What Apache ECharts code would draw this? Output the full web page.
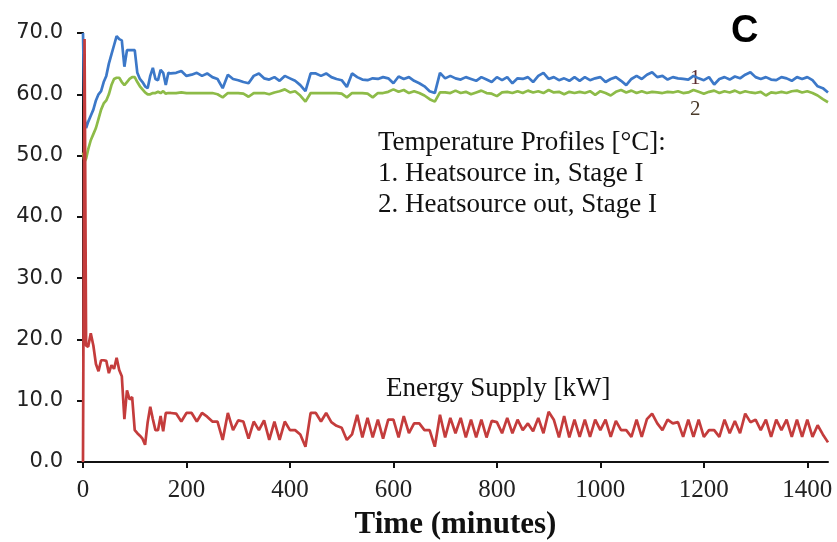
<!DOCTYPE html>
<html>
<head>
<meta charset="utf-8">
<script src="https://cdn.jsdelivr.net/npm/echarts@6/dist/echarts.min.js"></script>
<style>html,body{margin:0;padding:0;background:#fff}#c{width:837px;height:542px}</style>
</head>
<body>
<div id="c"></div>
<script>
const time = [0,3,6,10,15,20,25,30,35,40,45,50,55,60,65,70,75,80,85,90,95,100,105,110,115,120,125,130,135,140,145,150,155,160,165,
170,180,190,200,210,220,230,240,250,260,270,280,290,300,310,320,330,340,350,360,370,380,390,400,410,420,430,440,450,460,470,
480,490,500,510,520,530,540,550,560,570,580,590,600,610,620,630,640,650,660,670,680,690,700,710,720,730,740,750,760,770,780,790,800,810,820,830,840,850,860,870,880,890,900,910,920,930,940,950,
960,970,980,990,1000,1010,1020,1030,1040,1050,1060,1070,1080,1090,1100,1110,1120,1130,1140,1150,1160,1170,1180,1190,1200,1210,1220,1230,1240,1250,1260,1270,1280,1290,1300,1310,1320,1330,1340,1350,1360,1370,1380,1390,1400,1410,1420,1430,1440];

const heatsourceIn = [70,56,54.5,55.5,56.5,57.5,59,60,60.5,62,63,65,66.5,68,69.5,69,68.8,64.5,67.2,67.2,67.2,67.2,63.5,62.5,62,61.3,61,63,64.3,62.5,62.3,64,63.5,61.5,63.5,
63.4,63.5,63.8,63,63.2,63.5,63,63.4,62.8,62.5, 61,63.2,62.5,62.3,62,61.8,63,63.4,62.6,62.4, 62.8,62.2,63,62.6,62.2,61.5,60.5,63.4,63.4,63, 63.4,
62.8,62.5,62.3,61.2,63.4,62.8,62.4,62.3,62.6,62.5, 62.8,62.6,61.8,62.9,62.5,62.8,62.2,61.8,61.3,60.5, 60.2,63.5,62.6,63,62.6,62.4,62.8,62.5,62.2,62.8, 62.4,62,62.8,62.3,62.8,61.8,62.6,62.5,62.8,62, 63,63.5,62.5,62.8,62.3,62.6,62.2,62.8,
62.2,62.8,62.3,62.6,62.8,62,62.5,62.8,62.2,61.5, 62.5,63,62.5,63.2,63.6,62.8,63,62.4,62.8,62.6, 62.5,62.4,63,62.6,62.3,62.8,61.6,62.5,62.8,62.4, 62.9,62.6,63.2,63.6,62.8,62.5,62.8,62.4,62.3,62.8, 62.6,62.2,62.8,62.5,62.8,62.3,61.3,61,60.3];

const heatsourceOut = [50.5,49,49.5,51,52.5,53.5,54.5,56,57.5,58.5,59,60,61.5,62.5,62.7,62.7,62,61.5,62,62.5,62.8,62.8,62,61.3,60.8,60.3,60,60,60.2,60.2,60.4,60.2,60.5,60.1,60.2,
60.2,60.2,60.3,60.2,60.2,60.2,60.2,60.2,60.2,60, 59.5,60.2,60.2,60.2,60.1,59.6,60.2,60.2,60.2,60, 60.3,60.5,60.8,60.3,60.5,59.8,58.8,60.2,60.2,60.2, 60.2,
60.2,60.2,60.1,59.5,60.2,60.2,60.2,60.1,59.5,60.2, 60.2,60.4,60.8,60.4,60.7,60.2,60.5,60.2,59.8,59.2, 58.8,60.3,60.3,60.2,60.6,60.2,60.4,60,60.3,60.6, 60.2,60.1,59.7,60.3,60.4,60.2,60.5,60.2,60.6,60.3, 60.5,60.2,60.7,60.3,60.4,60,60.4,60.2,
60.4,60.2,60.5,59.9,60.5,60.2,59.8,60.4,60.7,60.3, 60.6,60.2,60.5,60.2,60.4,60.3,60.2,60.4,60.3,60.5, 60.2,60.3,60.7,60.4,60.1,60.4,60.6,60.2,60.5,60.3, 60.6,60.2,60.5,60.3,60.2,60.4,59.8,60.3,60.2,60.4, 60.2,60.5,60.6,60.3,60.5,60.2,59.8,59.2,58.7];

const energySupply = [0,69,19,18.8,21,19,16,14.8,16.6,16.6,16.5,14.5,15.8,15.2,17,15,14,7,11.7,10.2,10.6,5.2,4.7,4.3,3.8,2.8,6.5,9,7,5.2,5.2,7.5,5,8,8,
8,7.9,6.6,8,8,6.6,8,7.4,6.6,6.6, 3.6,8,5.2,6.8,6.6,3.8,6.6,5.2,6.8,3.6, 6.6,3.6,6.6,5.2,5.2,4.5,2.5,8,8,6.6, 8,
6.5,5.9,5.6,3.6,4.5,7.7,4,7.2,4,6.9, 3.8,6.9,6.9,4,7.5,4.7,6.3,6.3,5.2,5.2, 2.5,7.7,4,7.2,4.7,7.2,4,6.9,4,6.9, 4,6.7,6.5,4.7,7.2,4.7,6.9,5.2,6.3,5, 7.2,4.7,8.2,6.9,4,7.5,4,6.9,
4.1,6.9,4.1,6.9,5.2,6.9,4.1,6.7,5.2,5.2, 4.1,6.9,4.1,7,7.9,6.3,5.2,6.9,6.3,6.5, 4.1,6.9,4.1,6.9,4.1,5.2,5.2,4.1,6.9,4.7, 6.7,4.7,7.9,6.5,6.9,5.2,6.9,4.1,6.9,5.2, 6.9,4.1,6.9,4.1,6.9,4.1,6,4.5,3.2];

const xTicks = [0,200,400,600,800,1000,1200,1400];
const yTicks = [0,10,20,30,40,50,60,70];

const zip = arr => time.map((t, i) => [t, arr[i]]);
const chart = echarts.init(document.getElementById('c'), null, {renderer: 'canvas'});
const serif = '"Liberation Serif", "Times New Roman", serif';
chart.setOption({
  animation: false,
  backgroundColor: '#fff',
  grid: {left: 83, right: 9, top: 33, bottom: 80, containLabel: false, outerBoundsMode: 'none'},
  xAxis: {
    type: 'value', min: 0, max: 1440, interval: 200,
    name: 'Time (minutes)', nameLocation: 'middle', nameGap: 47,
    nameTextStyle: {fontFamily: serif, fontWeight: 'bold', fontSize: 31, color: '#111'},
    axisLine: {show: true, lineStyle: {color: '#111', width: 2}},
    axisTick: {show: true, length: 6, lineStyle: {color: '#111', width: 2}, customValues: xTicks},
    axisLabel: {fontFamily: serif, fontSize: 25, color: '#222', margin: 16, customValues: xTicks,
      formatter: v => String(v)},
    splitLine: {show: false}
  },
  yAxis: {
    type: 'value', min: 0, max: 70, interval: 10,
    axisLine: {show: true, lineStyle: {color: '#111', width: 2}},
    axisTick: {show: true, length: 6, lineStyle: {color: '#111', width: 2}, customValues: yTicks},
    axisLabel: {fontFamily: '"DejaVu Sans", sans-serif', fontSize: 21, color: '#222', margin: 20,
      customValues: yTicks, formatter: v => v.toFixed(1)},
    splitLine: {show: false}
  },
  series: [
    {name: 'Heatsource out, Stage I', type: 'line', data: zip(heatsourceOut), symbol: 'none',
      lineStyle: {color: '#8dbb48', width: 2.7}, z: 2},
    {name: 'Heatsource in, Stage I', type: 'line', data: zip(heatsourceIn), symbol: 'none',
      lineStyle: {color: '#3c78c8', width: 2.7}, z: 3},
    {name: 'Energy Supply [kW]', type: 'line', data: zip(energySupply), symbol: 'none',
      lineStyle: {color: '#c43c3c', width: 2.7}, z: 4}
  ],
  graphic: [
    {type: 'text', left: 378, top: 129, style: {text: 'Temperature Profiles [°C]:', font: '27px ' + serif, fill: '#111'}},
    {type: 'text', left: 378, top: 160, style: {text: '1. Heatsource in, Stage I', font: '27px ' + serif, fill: '#111'}},
    {type: 'text', left: 378, top: 191, style: {text: '2. Heatsource out, Stage I', font: '27px ' + serif, fill: '#111'}},
    {type: 'text', left: 386, top: 375, style: {text: 'Energy Supply [kW]', font: '27px ' + serif, fill: '#111'}},
    {type: 'text', left: 731, top: 13, style: {text: 'C', font: 'bold 38px "Liberation Sans", Arial, sans-serif', fill: '#000'}},
    {type: 'text', left: 690, top: 68, style: {text: '1', font: '21px ' + serif, fill: '#5a2a2e'}},
    {type: 'text', left: 690, top: 99, style: {text: '2', font: '21px ' + serif, fill: '#4a3a2a'}}
  ]
});
</script>
</body>
</html>
